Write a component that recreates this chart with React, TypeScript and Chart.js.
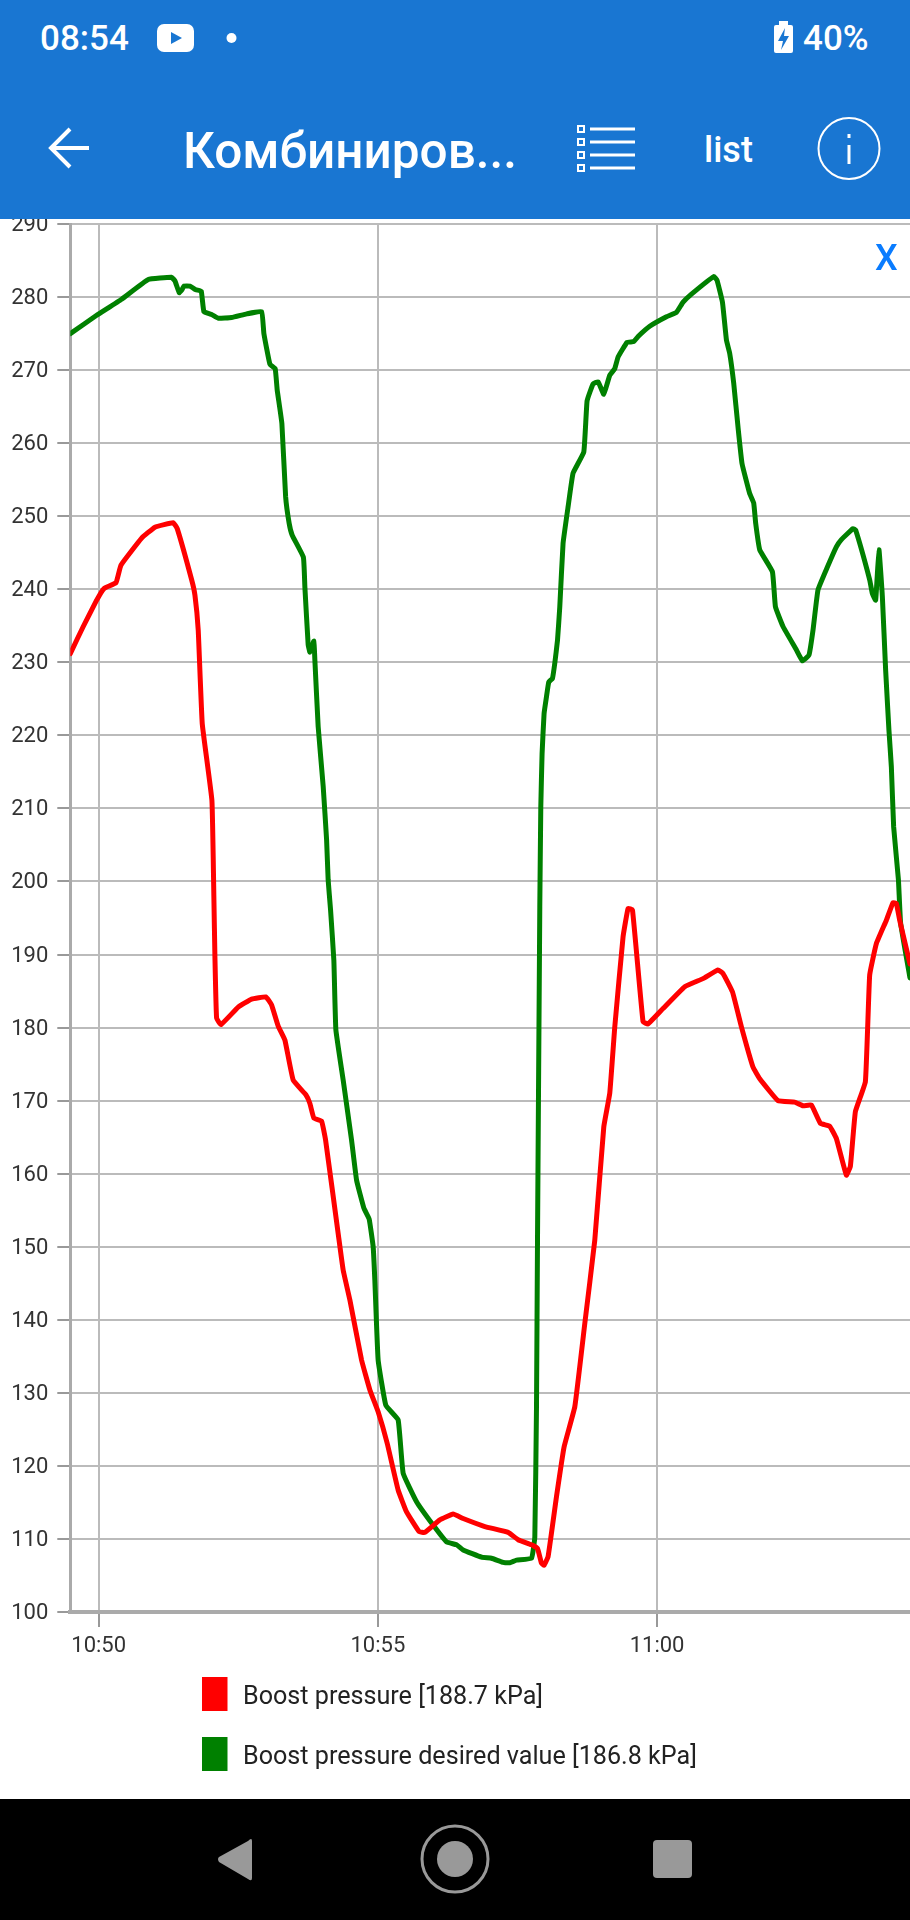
import React, { useEffect, useRef } from "react";
import { Chart, registerables } from "chart.js";

Chart.register(...registerables);

const boostMinutes = [-0.508,-0.276,-0.036,0.095,0.31,0.399,0.77,1.008,1.335,1.407,1.665,1.724,1.783,1.855,2.028,2.064,2.082,2.112,2.189,2.499,2.739,2.995,3.097,3.215,3.335,3.484,3.711,3.783,3.854,3.992,4.064,4.293,4.379,4.499,4.708,4.857,5.005,5.167,5.363,5.514,5.739,5.841,6.11,6.348,6.527,6.916,7.333,7.512,7.751,7.859,7.93,7.977,8.049,8.199,8.335,8.527,8.706,8.885,9.046,9.153,9.243,9.391,9.481,9.56,9.749,9.839,10.107,10.496,10.823,11.092,11.182,11.35,11.511,11.718,11.839,12.166,12.465,12.614,12.764,12.925,13.092,13.212,13.39,13.462,13.552,13.731,13.808,13.928,14.107,14.225,14.285,14.345,14.53];
const boostValues = [231.2,234.9,238.5,240.1,240.9,243.3,247,248.5,249.1,248.3,241.3,239.2,234.4,221.6,211.1,197.5,189.7,181.3,180.4,182.8,183.9,184.2,183.1,180.2,178.3,172.8,170.8,169.6,167.6,167.2,164.6,151.6,146.8,142.7,134.5,130.4,127.4,123.1,116.7,113.7,111,110.9,112.6,113.4,112.8,111.7,110.9,109.9,109.2,108.7,106.7,106.4,107.6,115.8,122.6,128.1,139.5,150.9,166.4,171,180.1,192.4,196.3,196.1,180.8,180.5,182.6,185.6,186.7,187.9,187.4,184.9,180.1,174.6,173,170,169.8,169.3,169.4,166.9,166.5,164.8,159.8,161,168.5,172.6,187.2,191.5,194.7,197.1,197,194.7,188.7];

const desiredMinutes = [-0.508,-0.036,0.412,0.888,1.307,1.366,1.443,1.491,1.527,1.634,1.742,1.837,1.885,2.023,2.141,2.381,2.649,2.918,2.959,3.067,3.161,3.197,3.281,3.348,3.412,3.466,3.666,3.693,3.752,3.783,3.854,3.872,3.931,4.021,4.082,4.11,4.153,4.212,4.248,4.379,4.529,4.619,4.749,4.844,4.916,4.946,5.005,5.143,5.363,5.453,5.693,5.99,6.23,6.409,6.527,6.856,7.035,7.243,7.363,7.483,7.751,7.811,7.841,7.859,7.9,7.918,7.941,7.977,8.02,8.061,8.127,8.169,8.217,8.258,8.317,8.407,8.496,8.688,8.747,8.854,8.944,9.046,9.153,9.243,9.302,9.463,9.583,9.66,9.869,10.168,10.347,10.466,10.616,11.015,11.074,11.171,11.243,11.301,11.373,11.45,11.522,11.659,11.731,11.767,11.839,12.066,12.12,12.256,12.496,12.603,12.721,12.793,12.882,13.043,13.211,13.301,13.509,13.557,13.808,13.856,13.915,13.974,14.035,14.094,14.153,14.196,14.237,14.323,14.362,14.53];
const desiredValues = [275,277.5,279.7,282.4,282.7,282.2,280.6,281,281.5,281.5,281,280.8,278,277.6,277.1,277.2,277.7,278,275,270.8,270.2,267.3,262.7,252.7,249,247.4,244.4,240.3,232.4,231.4,232.9,230.3,221.2,213,205.7,200.2,196.1,189.2,179.7,172.8,164.6,159.1,155.3,153.8,150,145.4,134.5,128.3,126.3,119,115.1,111.9,109.6,109.2,108.5,107.5,107.35,106.8,106.75,107.1,107.35,110.3,128.1,150.9,196.5,210.2,217.5,223,225.3,227.3,227.8,229.9,233,237.6,246.3,251.3,255.9,258.8,265.8,268.1,268.4,266.7,269.3,270.2,271.8,273.8,273.9,274.6,276,277.3,277.9,279.3,280.4,282.8,282.3,279.3,274.1,272.3,268.2,262.2,257.2,253.1,251.8,249,245.4,242.4,237.6,234.9,231.7,230.2,231,234.4,239.9,242.9,245.8,246.8,248.3,248.1,241.3,239.4,238.5,245.4,239,228.9,220.7,215.7,207.5,200.2,194.3,186.8];

const xTickLabels: Record<number, string> = { 0: "10:50", 5: "10:55", 10: "11:00" };
const seriesNames = ["Boost pressure [188.7 kPa]", "Boost pressure desired value [186.8 kPa]"];
const seriesColors = ["#ff0000", "#008000"];

const toPoints = (xs: number[], ys: number[]) => xs.map((x, i) => ({ x, y: ys[i] }));

const legendPlugin = {
  id: "stackedLegend",
  afterDraw(chart: any) {
    const ctx = chart.ctx;
    ctx.save();
    chart.data.datasets.forEach((ds: any, i: number) => {
      const top = 1677 - 219 + i * 60;
      ctx.fillStyle = ds.borderColor;
      ctx.fillRect(202, top, 25.5, 34);
      ctx.fillStyle = "#222222";
      ctx.font = "25.15px Roboto";
      ctx.textBaseline = "middle";
      ctx.textAlign = "left";
      ctx.fillText(ds.label, 243, top + 20.5);
    });
    ctx.restore();
  },
};

const abs = (o: React.CSSProperties): React.CSSProperties => ({ position: "absolute", ...o });

const lineStyle = { borderWidth: 5, pointRadius: 0, tension: 0.1, borderJoinStyle: "round", borderCapStyle: "round" };

export default function App() {
  const ref = useRef<HTMLCanvasElement>(null);
  useEffect(() => {
    document.body.style.margin = "0";
    const chart = new Chart(ref.current!, {
      type: "line",
      data: {
        datasets: [
          { label: seriesNames[0], data: toPoints(boostMinutes, boostValues), borderColor: seriesColors[0], backgroundColor: seriesColors[0], ...lineStyle },
          { label: seriesNames[1], data: toPoints(desiredMinutes, desiredValues), borderColor: seriesColors[1], backgroundColor: seriesColors[1], ...lineStyle },
        ],
      },
      options: {
        responsive: false,
        animation: false,
        layout: { autoPadding: false, padding: { top: 5, left: 0, right: 0, bottom: 0 } },
        plugins: { legend: { display: false }, tooltip: { enabled: false } },
        scales: {
          x: {
            type: "linear",
            min: -0.508,
            max: 14.53,
            afterFit: (s: any) => { s.height = 187; },
            afterBuildTicks: (s: any) => { s.ticks = Object.keys(xTickLabels).map((v) => ({ value: Number(v) })); },
            ticks: {
              autoSkip: false,
              maxRotation: 0,
              padding: 6,
              color: "#333333",
              font: { family: "Roboto", size: 22 },
              callback: (v: any) => xTickLabels[v as number] ?? "",
            },
            grid: { color: "#bbbbbb", lineWidth: 2, tickLength: 15, tickColor: "#999999", drawTicks: true },
            border: { color: "#aaaaaa", width: 4 },
          },
          y: {
            type: "linear",
            min: 100,
            max: 290,
            afterFit: (s: any) => {
              s.width = 70.3;
              s.paddingTop = 0;
              s.paddingBottom = 0;
              if (s._margins) { s._margins.top = 0; s._margins.bottom = 0; }
            },
            ticks: {
              stepSize: 10,
              autoSkip: false,
              padding: 9,
              labelOffset: 1.5,
              color: "#333333",
              font: { family: "Roboto", size: 22 },
            },
            grid: { color: "#bbbbbb", lineWidth: 2, tickLength: 13, tickColor: "#999999" },
            border: { color: "#aaaaaa", width: 3 },
          },
        },
      },
      plugins: [legendPlugin],
    } as any);
    return () => chart.destroy();
  }, []);

  const white = "#ffffff";
  return (
    <div style={{ position: "relative", width: 910, height: 1920, overflow: "hidden", background: white, fontFamily: "Roboto" }}>
      <div style={abs({ left: 0, top: 0, width: 910, height: 219, background: "#1976d2" })} />
      <div style={abs({ left: 40, top: 19, color: white, fontSize: 35, fontWeight: 500, lineHeight: "40px" })}>08:54</div>
      <svg style={abs({ left: 0, top: 0 })} width={910} height={219}>
        <rect x={157} y={24} width={37} height={28} rx={7} fill={white} />
        <polygon points="171,32 171,44 182,38" fill="#1976d2" />
        <circle cx={231.5} cy={38} r={5} fill={white} />
        <rect x={774} y={25} width={19} height={28} rx={2} fill={white} />
        <rect x={779} y={21} width={9} height={5} fill={white} />
        <polygon points="785,28 778,41 783,41 781,50 789,36 784,36" fill="#1976d2" />
        <path d="M89 148 H52 M70 129 L51 148 L70 167" stroke={white} strokeWidth={4} fill="none" />
        {[129, 142, 155, 168].map((y) => (
          <g key={y}>
            <rect x={578} y={y - 3} width={6} height={6} fill="none" stroke={white} strokeWidth={2} />
            <rect x={590} y={y - 1.5} width={45} height={3} fill={white} />
          </g>
        ))}
        <circle cx={849} cy={148.5} r={30.5} fill="none" stroke={white} strokeWidth={2} />
        <rect x={847.5} y={145} width={3} height={19} fill={white} />
        <rect x={847.5} y={134} width={3} height={4} fill={white} />
      </svg>
      <div style={abs({ left: 183, top: 121, color: white, fontSize: 49.5, fontWeight: 500, lineHeight: "60px", whiteSpace: "nowrap" })}>Комбиниров...</div>
      <div style={abs({ left: 704, top: 129, color: white, fontSize: 36, fontWeight: 500, lineHeight: "42px" })}>list</div>
      <div style={abs({ left: 803, top: 19, color: white, fontSize: 35, fontWeight: 500, lineHeight: "40px" })}>40%</div>
      <canvas ref={ref} width={910} height={1580} style={abs({ left: 0, top: 219, width: 910, height: 1580 })} />
      <div style={abs({ left: 875, top: 237, color: "#0a7cff", fontSize: 36, fontWeight: 500, lineHeight: "42px" })}>X</div>
      <div style={abs({ left: 0, top: 1799, width: 910, height: 121, background: "#000000" })} />
      <svg style={abs({ left: 0, top: 1799 })} width={910} height={121}>
        <path d="M252 42 Q252 38 248 42 L219 58 Q217 60 219 63 L248 80 Q252 83 252 79 Z" fill="#999999" />
        <circle cx={455} cy={60} r={33} fill="none" stroke="#999999" strokeWidth={3} />
        <circle cx={455} cy={60} r={18} fill="#999999" />
        <rect x={653} y={41} width={39} height={38} rx={4} fill="#999999" />
      </svg>
    </div>
  );
}
